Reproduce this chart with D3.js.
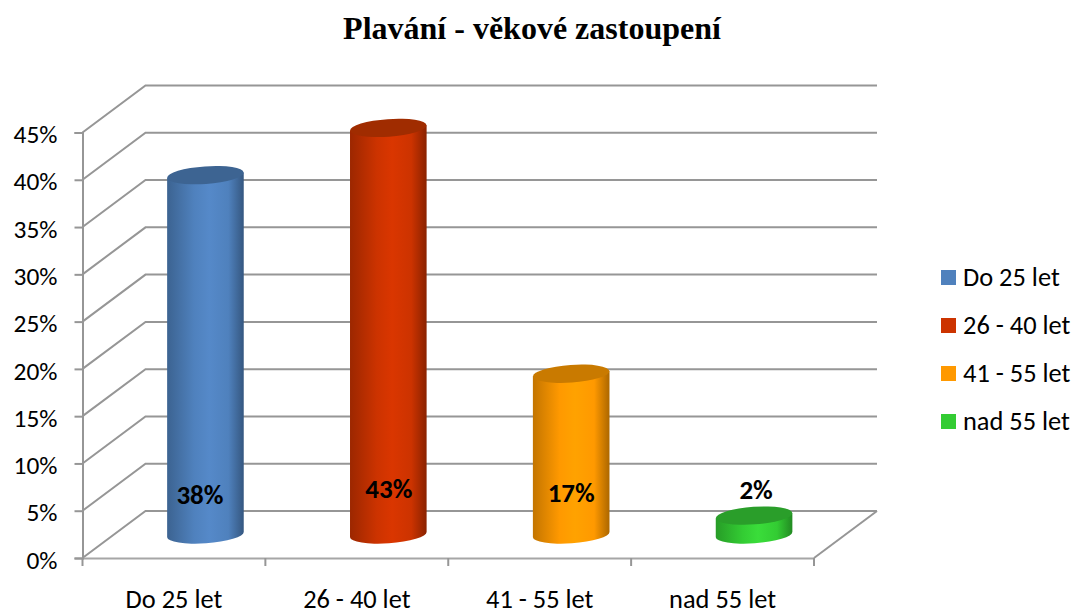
<!DOCTYPE html>
<html>
<head>
<meta charset="utf-8">
<script src="https://cdn.jsdelivr.net/npm/d3@7"></script>
<style>
  html, body { margin: 0; padding: 0; background: #fff; }
  svg { display: block; }
</style>
</head>
<body>
<div class="chart"></div>
<script>
var categories = ["Do 25 let", "26 - 40 let", "41 - 55 let", "nad 55 let"];
var values = [0.38, 0.43, 0.17, 0.02];
var valueLabels = ["38%", "43%", "17%", "2%"];
var yTicks = [0, 0.05, 0.1, 0.15, 0.2, 0.25, 0.3, 0.35, 0.4, 0.45];
var colors = ["#4f81bd", "#cc3300", "#ff9900", "#33cc33"];
var midColors = ["#5589c9", "#da3600", "#ffa200", "#3add3a"];
var topColors = ["#3d6492", "#a02c00", "#c97a00", "#2a9e2a"];

var svgWidth = 1074;
var svgHeight = 612;
var font = "Carlito, Lato, sans-serif";
var gridColor = "#969696";

var plot = { left: 82.5, right: 814, top: 132.5, bottom: 558 };
var depth = { x: 63, y: -47 };
var barWidth = 76.6;
var tilt = 4;

var svg = d3.select(".chart").append("svg")
  .attr("width", svgWidth)
  .attr("height", svgHeight);

var x = d3.scaleBand()
  .domain(categories)
  .range([plot.left, plot.right]);

var y = d3.scaleLinear()
  .domain([0, 0.45])
  .range([plot.bottom, plot.top]);

// one horizontal shading per cylinder
var defs = svg.append("defs");
colors.forEach(function(c, i) {
  var g = defs.append("linearGradient").attr("id", "cyl" + i);
  var dark = d3.color(c).darker(1.1);
  g.append("stop").attr("offset", "0%").attr("stop-color", d3.color(c).darker(0.75));
  g.append("stop").attr("offset", "35%").attr("stop-color", c);
  g.append("stop").attr("offset", "55%").attr("stop-color", midColors[i]);
  g.append("stop").attr("offset", "80%").attr("stop-color", c);
  g.append("stop").attr("offset", "100%").attr("stop-color", dark);
});

// title
svg.append("text")
  .attr("x", 532)
  .attr("y", 39)
  .attr("text-anchor", "middle")
  .attr("font-family", "Liberation Serif, serif")
  .attr("font-weight", "bold")
  .attr("font-size", 32)
  .attr("fill", "#000")
  .text("Plavání - věkové zastoupení");

// walls: diagonal on the left then the back gridline
svg.append("g").selectAll("path")
  .data(yTicks)
  .enter().append("path")
  .attr("fill", "none")
  .attr("stroke", gridColor)
  .attr("stroke-width", 2)
  .attr("d", function(d) {
    var p = d3.path();
    p.moveTo(plot.left, y(d));
    p.lineTo(plot.left + depth.x, y(d) + depth.y);
    p.lineTo(plot.right + depth.x, y(d) + depth.y);
    return p.toString();
  });

// floor, right edge
svg.append("path")
  .attr("fill", "none")
  .attr("stroke", gridColor)
  .attr("stroke-width", 2)
  .attr("d", function() {
    var p = d3.path();
    p.moveTo(plot.right, y(0));
    p.lineTo(plot.right + depth.x, y(0) + depth.y);
    return p.toString();
  });

var leftAxis = d3.axisLeft(y)
  .tickValues(yTicks)
  .tickFormat(d3.format(".0%"))
  .tickSize(8)
  .tickPadding(17);

var bottomAxis = d3.axisBottom(x)
  .tickSize(0)
  .tickPadding(31);

var xAxisG = svg.append("g")
  .attr("transform", `translate(0, ${plot.bottom})`)
  .call(bottomAxis);

var yAxisG = svg.append("g")
  .attr("transform", `translate(${plot.left}, 0)`)
  .call(leftAxis);

// ticks sit on the band edges, not the centres
xAxisG.selectAll(".edge")
  .data(d3.range(categories.length + 1))
  .enter().append("line")
  .attr("class", "edge")
  .attr("x1", function(i) { return plot.left + i * x.step(); })
  .attr("x2", function(i) { return plot.left + i * x.step(); })
  .attr("y1", 0)
  .attr("y2", 8);

[xAxisG, yAxisG].forEach(function(g) {
  g.selectAll("path").attr("stroke", gridColor).attr("stroke-width", 2);
  g.selectAll("line").attr("stroke", gridColor).attr("stroke-width", 2);
  g.selectAll("text")
    .attr("font-family", font)
    .attr("fill", "#000");
});
xAxisG.selectAll("text").attr("font-size", 26.4);
yAxisG.selectAll("text").attr("font-size", 25.4).attr("y", 2);
xAxisG.select("path").attr("stroke", "#a6a6a6");

// cylinders
var rx = barWidth / 2;
var ry = 8.8;
var sideDrop = rx * Math.tan(tilt * Math.PI / 180);

var bars = svg.append("g").selectAll("g")
  .data(values)
  .enter().append("g");

bars.append("path")
  .attr("fill", function(d, i) { return "url(#cyl" + i + ")"; })
  .attr("d", function(d, i) {
    var cx = x(categories[i]) + x.bandwidth() / 2 + depth.x / 2;
    var base = y(0) + depth.y / 2;
    var top = y(d) + depth.y / 2;
    return "M" + (cx - rx) + "," + (top + sideDrop) +
      "L" + (cx + rx) + "," + (top - sideDrop) +
      "L" + (cx + rx) + "," + (base - sideDrop) +
      "A" + rx + "," + ry + "," + (-tilt) + ",0,1," + (cx - rx) + "," + (base + sideDrop) + "Z";
  });

bars.append("ellipse")
  .attr("rx", rx)
  .attr("ry", ry)
  .attr("fill", function(d, i) { return topColors[i]; })
  .attr("transform", function(d, i) {
    var cx = x(categories[i]) + x.bandwidth() / 2 + depth.x / 2;
    return `translate(${cx}, ${y(d) + depth.y / 2}) rotate(${-tilt})`;
  });

// hand placed like the original chart's data labels
var labelDx = [-5.5, 0.5, 0, 2];
var labelY = [494, 488, 492, 489];

bars.append("text")
  .attr("x", function(d, i) { return x(categories[i]) + x.bandwidth() / 2 + depth.x / 2 + labelDx[i]; })
  .attr("y", function(d, i) { return labelY[i]; })
  .attr("dy", "0.36em")
  .attr("text-anchor", "middle")
  .attr("font-family", font)
  .attr("font-weight", "bold")
  .attr("font-size", 27)
  .attr("fill", "#000")
  .text(function(d, i) { return valueLabels[i]; });

// legend
var legend = svg.append("g").selectAll("g")
  .data(categories)
  .enter().append("g")
  .attr("transform", function(d, i) { return `translate(941, ${270 + i * 48})`; });

legend.append("rect")
  .attr("width", 15)
  .attr("height", 15)
  .attr("fill", function(d, i) { return colors[i]; });

legend.append("text")
  .attr("x", 22)
  .attr("y", 6.5)
  .attr("dy", "0.36em")
  .attr("font-family", font)
  .attr("font-size", 26.4)
  .attr("fill", "#000")
  .text(function(d) { return d; });
</script>
</body>
</html>
